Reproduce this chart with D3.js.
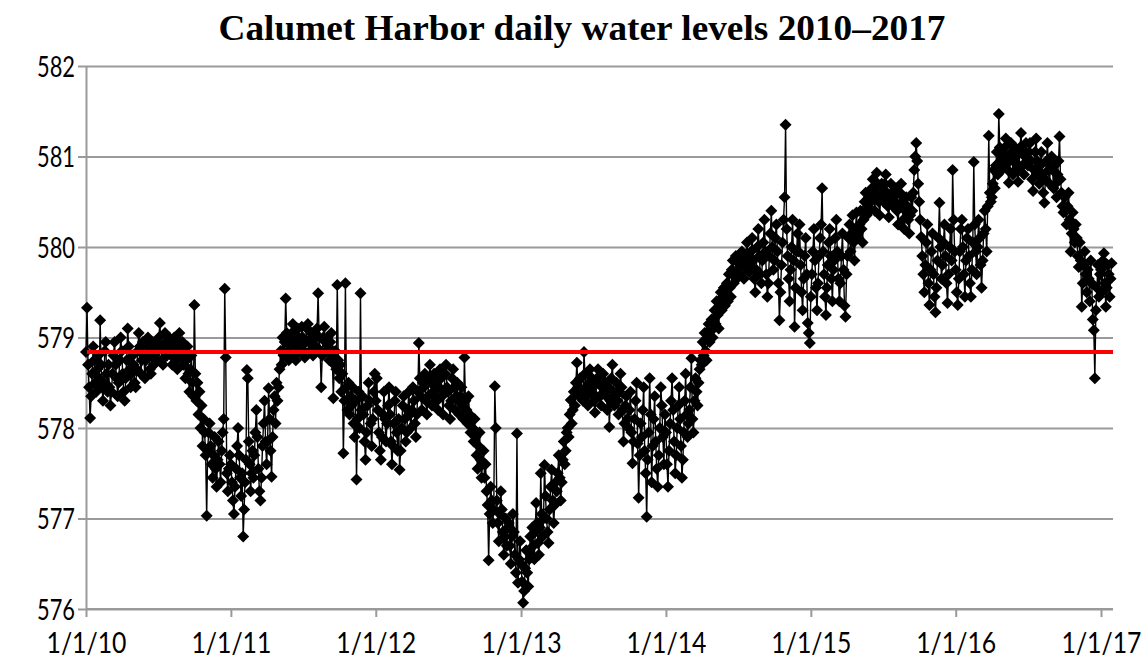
<!DOCTYPE html>
<html>
<head>
<meta charset="utf-8">
<script src="https://cdn.jsdelivr.net/npm/d3@7"></script>
<style>
  body { margin: 0; background: #fff; }
  svg { display: block; }
</style>
</head>
<body>
<svg id="chart" width="1146" height="666"></svg>
<script>
// Chart text and axis values
const chartTitle = "Calumet Harbor daily water levels 2010\u20132017";
const yTickValues = [576, 577, 578, 579, 580, 581, 582];
const xTickLabels = ["1/1/10", "1/1/11", "1/1/12", "1/1/13", "1/1/14", "1/1/15", "1/1/16", "1/1/17"];
const longTermMean = 578.84;

// Water level (ft), twelve readings per month, January through December
const levels2010 = [
  578.84, 579.33, 578.70, 578.45, 578.11, 578.35, 578.60, 578.90, 578.75, 578.50, 578.40, 578.65,
  578.80, 578.55, 579.19, 578.70, 578.45, 578.30, 578.50, 578.85, 578.95, 578.60, 578.40, 578.70,
  578.45, 578.25, 578.40, 578.60, 578.80, 578.95, 578.70, 578.55, 578.35, 578.50, 578.75, 579.00,
  578.85, 578.60, 578.40, 578.30, 578.55, 578.75, 579.10, 578.90, 578.65, 578.45, 578.60, 578.80,
  578.70, 578.50, 578.45, 578.65, 578.85, 579.05, 578.90, 578.60, 578.75, 578.95, 578.80, 578.55,
  578.75, 578.90, 579.00, 578.80, 578.65, 578.60, 578.85, 578.95, 578.70, 578.80, 578.90, 578.75,
  578.85, 579.00, 579.16, 578.90, 578.75, 578.70, 578.85, 579.05, 578.95, 578.80, 578.90, 579.00,
  578.90, 578.80, 578.70, 578.85, 579.00, 578.95, 578.75, 578.65, 578.85, 579.05, 578.90, 578.80,
  578.95, 578.70, 578.85, 578.55, 578.75, 578.90, 578.60, 578.40, 578.65, 578.80, 578.50, 578.35,
  579.36, 578.60, 578.30, 578.50, 578.15, 578.40, 578.00, 578.25, 577.80, 578.10, 577.95, 577.70,
  577.03, 577.75, 577.95, 578.05, 577.80, 577.60, 577.45, 577.70, 577.90, 577.55, 577.35, 577.65,
  577.85, 577.60, 577.40, 577.75, 577.95, 578.10, 579.54, 578.78, 577.50, 577.30, 577.55, 577.70
];
const levels2011 = [
  577.60, 577.40, 577.20, 577.05, 577.35, 577.55, 577.80, 578.00, 577.70, 577.45, 577.25, 577.50,
  576.80, 577.10, 577.40, 577.65, 578.64, 578.55, 577.85, 577.60, 577.30, 577.50, 577.75, 577.45,
  577.70, 577.95, 578.20, 577.90, 577.55, 577.30, 577.20, 577.45, 577.80, 578.05, 578.30, 577.85,
  577.60, 577.85, 578.44, 578.10, 577.75, 577.46, 577.90, 578.20, 578.35, 578.05, 578.50, 578.30,
  578.45, 578.65, 578.85, 578.70, 579.00, 578.80, 578.95, 579.43, 579.05, 578.85, 578.75, 579.00,
  578.90, 579.05, 579.15, 578.95, 578.80, 578.75, 578.90, 579.10, 579.00, 578.85, 578.95, 579.12,
  579.00, 578.85, 578.78, 578.95, 579.10, 579.15, 578.95, 578.85, 579.05, 579.00, 578.80, 578.90,
  579.05, 578.90, 579.10, 579.49, 579.00, 578.85, 578.45, 578.80, 579.00, 579.12, 578.95, 578.85,
  579.00, 578.90, 578.75, 578.95, 579.05, 578.80, 578.33, 578.70, 578.85, 578.65, 579.58, 578.75,
  578.55, 578.70, 578.40, 578.60, 577.72, 578.30, 579.60, 578.45, 578.20, 578.50, 578.15, 578.35,
  578.25, 578.45, 578.05, 577.90, 578.30, 577.43, 578.10, 578.40, 578.00, 579.49, 578.20, 578.35,
  578.15, 577.85, 577.65, 577.95, 578.25, 578.50, 578.30, 578.05, 577.80, 578.10, 578.40, 578.60
];
const levels2012 = [
  578.30, 578.55, 578.20, 577.95, 577.75, 577.65, 577.90, 578.15, 578.40, 578.10, 577.85, 578.05,
  578.25, 578.45, 578.15, 577.85, 577.60, 577.80, 578.05, 578.30, 578.40, 577.95, 577.75, 578.10,
  577.54, 577.75, 578.00, 578.25, 578.35, 578.10, 577.85, 577.95, 578.20, 578.40, 578.15, 578.00,
  578.20, 578.45, 578.30, 578.05, 577.90, 578.15, 578.40, 578.94, 578.55, 578.35, 578.20, 578.50,
  578.45, 578.60, 578.30, 578.15, 578.35, 578.55, 578.70, 578.50, 578.25, 578.40, 578.60, 578.35,
  578.50, 578.30, 578.20, 578.45, 578.65, 578.55, 578.35, 578.15, 578.40, 578.60, 578.70, 578.45,
  578.40, 578.25, 578.10, 578.30, 578.55, 578.65, 578.45, 578.20, 578.35, 578.50, 578.30, 578.15,
  578.35, 578.45, 578.25, 578.10, 578.78, 578.30, 578.20, 578.05, 578.35, 578.15, 577.95, 578.10,
  578.00, 577.85, 578.10, 577.90, 577.70, 577.55, 577.80, 577.95, 577.65, 577.45, 577.60, 577.75,
  577.45, 577.60, 577.30, 577.15, 576.54, 577.05, 577.35, 577.20, 576.95, 577.10, 578.46, 578.00,
  577.20, 576.95, 576.75, 577.05, 577.30, 577.10, 576.85, 576.60, 576.80, 577.00, 576.70, 576.90,
  576.95, 576.70, 576.50, 576.80, 577.05, 576.85, 576.60, 576.40, 577.94, 576.29, 576.55, 576.75
];
const levels2013 = [
  576.50, 576.30, 576.07, 576.20, 576.45, 576.65, 576.40, 576.25, 576.55, 576.80, 576.60, 576.90,
  576.70, 576.55, 576.85, 577.17, 576.95, 576.73, 576.60, 576.90, 577.50, 577.05, 576.80, 577.00,
  577.59, 577.25, 577.00, 576.85, 576.73, 577.10, 577.35, 577.54, 577.20, 576.95, 577.15, 577.40,
  577.30, 577.50, 577.70, 577.45, 577.20, 577.40, 577.65, 577.85, 577.60, 577.75, 577.95, 578.00,
  577.90, 578.15, 578.31, 578.05, 578.20, 578.40, 578.25, 578.50, 578.72, 578.45, 578.35, 578.55,
  578.55, 578.40, 578.30, 578.84, 578.60, 578.45, 578.35, 578.25, 578.50, 578.65, 578.40, 578.55,
  578.45, 578.30, 578.17, 578.35, 578.55, 578.65, 578.50, 578.35, 578.25, 578.45, 578.60, 578.40,
  578.50, 578.35, 578.20, 578.45, 578.01, 578.30, 578.55, 578.70, 578.40, 578.25, 578.35, 578.50,
  578.30, 578.15, 578.40, 578.60, 578.45, 578.20, 577.85, 578.05, 578.25, 578.35, 578.10, 578.00,
  578.20, 578.40, 577.95, 577.61, 577.85, 578.10, 578.30, 578.50, 577.83, 577.23, 577.70, 578.05,
  577.90, 578.20, 578.45, 577.75, 577.50, 577.02, 577.65, 577.95, 578.55, 578.15, 577.40, 577.80,
  578.10, 578.35, 577.85, 577.55, 577.35, 577.70, 578.00, 578.45, 578.25, 577.90, 577.60, 578.15
];
const levels2014 = [
  577.95, 577.60, 577.35, 577.75, 578.05, 578.30, 578.55, 578.20, 577.85, 577.50, 577.70, 578.00,
  578.25, 578.45, 578.10, 577.80, 577.45, 577.65, 577.95, 578.30, 578.60, 578.15, 577.90, 578.05,
  578.20, 578.45, 578.77, 578.10, 577.95, 578.30, 578.55, 578.40, 578.25, 578.50, 578.65, 578.75,
  578.70, 578.95, 578.80, 579.05, 578.85, 578.75, 579.00, 579.15, 578.95, 579.10, 579.20, 579.00,
  579.10, 579.30, 579.15, 579.40, 579.25, 579.10, 579.35, 579.50, 579.30, 579.45, 579.55, 579.35,
  579.45, 579.60, 579.40, 579.70, 579.55, 579.45, 579.75, 579.85, 579.60, 579.70, 579.90, 579.65,
  579.75, 579.82, 579.70, 579.88, 579.95, 579.80, 579.65, 579.78, 579.92, 580.05, 579.85, 579.72,
  579.80, 579.95, 580.10, 579.85, 579.65, 579.50, 579.75, 580.00, 580.20, 579.90, 579.70, 579.60,
  579.85, 580.05, 580.30, 579.95, 579.70, 579.45, 579.60, 579.90, 580.15, 580.40, 580.00, 579.75,
  579.85, 580.10, 580.25, 579.95, 579.60, 579.19, 579.50, 579.80, 580.05, 580.30, 580.55, 581.35,
  580.20, 579.90, 579.65, 579.40, 579.75, 580.00, 580.30, 579.85, 579.12, 579.55, 579.95, 580.15,
  579.95, 580.25, 579.80, 579.50, 579.30, 579.65, 579.90, 580.10, 579.70, 579.16, 579.05, 578.94
];
const levels2015 = [
  579.45, 579.70, 579.95, 580.20, 579.85, 579.55, 579.30, 579.60, 579.90, 580.10, 580.25, 580.65,
  579.95, 579.70, 579.45, 579.25, 579.55, 579.80, 580.05, 580.20, 579.90, 579.65, 579.40, 579.75,
  579.85, 580.10, 580.30, 579.95, 579.65, 579.40, 579.60, 579.90, 580.15, 579.75, 579.35, 579.23,
  579.70, 579.90, 580.10, 580.25, 579.95, 580.15, 580.35, 580.05, 579.85, 580.20, 580.38, 580.15,
  580.10, 580.25, 580.40, 580.20, 580.05, 580.30, 580.50, 580.60, 580.35, 580.45, 580.55, 580.40,
  580.50, 580.65, 580.75, 580.55, 580.40, 580.60, 580.82, 580.70, 580.50, 580.35, 580.55, 580.70,
  580.65, 580.50, 580.70, 580.80, 580.60, 580.45, 580.33, 580.55, 580.70, 580.60, 580.45, 580.55,
  580.50, 580.65, 580.40, 580.25, 580.45, 580.60, 580.70, 580.50, 580.30, 580.20, 580.40, 580.55,
  580.45, 580.30, 580.15, 580.35, 580.55, 580.40, 580.60, 580.85, 581.00, 581.15, 580.95, 580.70,
  580.50, 580.30, 580.11, 579.90, 579.70, 579.50, 579.80, 580.05, 580.25, 579.60, 579.36, 579.75,
  579.95, 580.15, 579.70, 579.45, 579.28, 579.55, 579.85, 580.10, 580.49, 580.00, 579.65, 579.80,
  580.05, 580.25, 579.90, 579.60, 579.38, 579.70, 580.00, 580.20, 579.85, 580.85, 580.30, 579.95
];
const levels2016 = [
  579.75, 579.50, 579.36, 579.65, 579.95, 580.20, 580.30, 580.00, 579.70, 579.45, 579.85, 580.10,
  580.20, 579.90, 579.60, 579.45, 579.75, 580.05, 580.94, 580.25, 579.95, 579.70, 580.00, 580.30,
  580.10, 579.80, 579.55, 579.85, 580.15, 580.40, 580.20, 579.95, 580.45, 581.23, 580.60, 580.50,
  580.55, 580.70, 580.85, 580.65, 580.90, 581.05, 580.80, 581.47, 581.10, 580.95, 580.85, 581.00,
  580.90, 581.10, 581.20, 581.00, 580.85, 580.71, 580.95, 581.15, 581.05, 580.80, 580.95, 581.10,
  581.00, 580.85, 580.72, 580.90, 581.10, 581.26, 581.05, 580.90, 580.80, 581.00, 581.15, 580.95,
  580.90, 581.05, 581.15, 580.95, 580.75, 580.62, 580.85, 581.05, 581.20, 580.95, 580.80, 580.70,
  580.90, 581.05, 580.80, 580.60, 580.49, 580.75, 580.95, 581.15, 580.85, 580.70, 580.90, 581.00,
  580.85, 580.65, 580.90, 580.70, 580.55, 580.80, 580.95, 581.22, 580.75, 580.60, 580.45, 580.38,
  580.55, 580.40, 580.25, 580.45, 580.60, 580.30, 579.95, 580.15, 580.38, 580.20, 580.05, 580.25,
  580.10, 579.90, 579.78, 580.05, 579.85, 579.34, 579.60, 579.80, 579.95, 579.70, 579.50, 579.75,
  579.65, 579.40, 579.85, 579.60, 579.20, 579.08, 578.55, 579.30, 579.55, 579.80, 579.45, 579.70
];
// January 2017, readings through the 29th
const levels2017 = [
  579.75, 579.50, 579.85, 579.93, 579.60, 579.34, 579.55, 579.80, 579.70, 579.45, 579.65, 579.82
];

const yearlyLevels = [
  [2010, levels2010], [2011, levels2011], [2012, levels2012], [2013, levels2013],
  [2014, levels2014], [2015, levels2015], [2016, levels2016], [2017, levels2017]
];

// Spread each month's readings evenly across its days
const PER_MONTH = 12;
const DAY = 86400000;
const series = [];
yearlyLevels.forEach(([year, values]) => {
  values.forEach((v, i) => {
    const m = Math.floor(i / PER_MONTH), k = i % PER_MONTH;
    const start = new Date(year, m, 1);
    const span = year === 2017 ? 29 : new Date(year, m + 1, 0).getDate();
    series.push({ date: new Date(start.getTime() + k * span / PER_MONTH * DAY), level: v });
  });
});

// Layout
const plot = { left: 86, right: 1113, top: 66, bottom: 609 };
const svg = d3.select("#chart");

const x = d3.scaleTime()
  .domain([new Date(2010, 0, 1), new Date(2017, 0, 1)])
  .range([plot.left, 1101]);
const y = d3.scaleLinear()
  .domain([576, 582])
  .range([plot.bottom, plot.top]);

const gridColor = "#9a9a9a";
const labelFont = "Lato, 'Open Sans', sans-serif";

// Horizontal gridlines with outside tick marks
const yAxis = d3.axisLeft(y)
  .tickValues(yTickValues)
  .tickSize(-(plot.right - plot.left))
  .tickSizeOuter(0)
  .tickFormat(d3.format("d"));
const gy = svg.append("g")
  .attr("transform", `translate(${plot.left},0)`)
  .call(yAxis);
gy.select(".domain").attr("stroke", gridColor).attr("stroke-width", 2);
gy.selectAll(".tick line")
  .attr("x1", -8)
  .attr("stroke", gridColor).attr("stroke-width", 2);
gy.selectAll(".tick text")
  .attr("x", -11)
  .attr("dy", "0.36em")
  .attr("fill", "#000")
  .style("font-family", labelFont)
  .style("font-size", "29px")
  .attr("textLength", 38)
  .attr("lengthAdjust", "spacingAndGlyphs");

// Date axis along the bottom
const tickDates = xTickLabels.map((_, i) => new Date(2010 + i, 0, 1));
const xAxis = d3.axisBottom(x)
  .tickValues(tickDates)
  .tickSize(8)
  .tickSizeOuter(0)
  .tickFormat((d, i) => xTickLabels[i]);
const gx = svg.append("g")
  .attr("transform", `translate(0,${plot.bottom})`)
  .call(xAxis);
gx.select(".domain")
  .attr("d", `M${plot.left},0H${plot.right}`)
  .attr("stroke", gridColor).attr("stroke-width", 2);
gx.selectAll(".tick line").attr("stroke", gridColor).attr("stroke-width", 2);
gx.selectAll(".tick text")
  .attr("y", 44)
  .attr("dy", 0)
  .attr("fill", "#000")
  .style("font-family", labelFont)
  .style("font-size", "28px")
  .attr("textLength", 80)
  .attr("lengthAdjust", "spacingAndGlyphs");

// Daily series: thin connecting line plus diamond markers
const line = d3.line()
  .x(d => x(d.date))
  .y(d => y(d.level));
svg.append("path")
  .datum(series)
  .attr("fill", "none")
  .attr("stroke", "#000")
  .attr("stroke-width", 1.4)
  .attr("d", line);

const r = 6;
const diamond = `M0,${-r}L${r},0L0,${r}L${-r},0Z`;
svg.append("g")
  .selectAll("path")
  .data(series)
  .join("path")
  .attr("d", diamond)
  .attr("transform", d => `translate(${x(d.date)},${y(d.level)})`)
  .attr("fill", "#000");

// Long-term average level
svg.append("line")
  .attr("x1", plot.left + 1)
  .attr("x2", plot.right)
  .attr("y1", y(longTermMean))
  .attr("y2", y(longTermMean))
  .attr("stroke", "#ff0000")
  .attr("stroke-width", 4);

// Title
svg.append("text")
  .attr("x", 582)
  .attr("y", 40)
  .attr("text-anchor", "middle")
  .style("font-family", "'Liberation Serif', 'Times New Roman', serif")
  .style("font-weight", "bold")
  .style("font-size", "35px")
  .attr("textLength", 727)
  .attr("lengthAdjust", "spacingAndGlyphs")
  .text(chartTitle);
</script>
</body>
</html>
